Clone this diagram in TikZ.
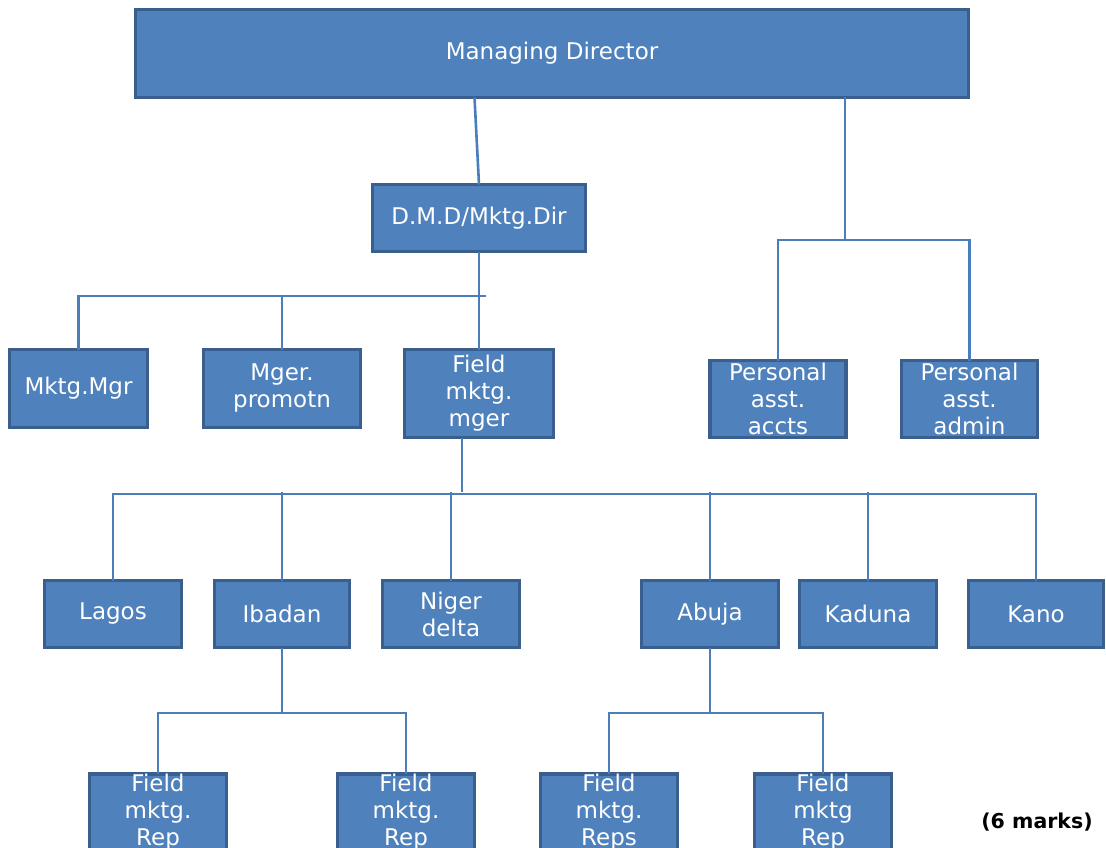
\documentclass[tikz,border=0pt]{standalone}
\usepackage{fontspec}
\setmainfont{DejaVu Sans}
\definecolor{boxfill}{HTML}{4F81BD}
\definecolor{boxline}{HTML}{3A5F8E}
\definecolor{conn}{HTML}{4A7EBB}
\begin{document}
\begin{tikzpicture}[x=1pt,y=-1pt,
  orgbox/.style={draw=boxline, fill=boxfill, line width=3.6pt, inner sep=0pt,
    text=white, align=center, font=\fontsize{23}{27}\selectfont},
  wire/.style={draw=conn, line width=2.6pt}]
\useasboundingbox (0,0) rectangle (1106,848);
\clip (0,0) rectangle (1106,848);
% boxes
\node[orgbox, minimum width=833pt, minimum height=88pt] (md) at (552,53.5) {Managing Director};
\node[orgbox, minimum width=213pt, minimum height=67pt] (dmd) at (479,218) {D.M.D/Mktg.Dir};
\node[orgbox, minimum width=138pt, minimum height=78pt] (mm) at (78.5,388.5) {Mktg.Mgr};
\node[orgbox, minimum width=157pt, minimum height=78pt] (mp) at (282,388.5) {Mger.\\promotn};
\node[orgbox, minimum width=149pt, minimum height=88pt] (fm) at (479,393.5) {Field\\mktg.\\mger};
\node[orgbox, minimum width=136pt, minimum height=77pt] (paa) at (778,399) {Personal\\asst.\\accts};
\node[orgbox, minimum width=136pt, minimum height=77pt] (pad) at (969.5,399) {Personal\\asst.\\admin};
\node[orgbox, minimum width=137pt, minimum height=67pt] (lagos) at (113,614) {Lagos};
\node[orgbox, minimum width=135pt, minimum height=67pt] (ibadan) at (282,614) {Ibadan};
\node[orgbox, minimum width=137pt, minimum height=67pt] (niger) at (451,614) {Niger\\delta};
\node[orgbox, minimum width=137pt, minimum height=67pt] (abuja) at (710,614) {Abuja};
\node[orgbox, minimum width=137pt, minimum height=67pt] (kaduna) at (868,614) {Kaduna};
\node[orgbox, minimum width=135pt, minimum height=67pt] (kano) at (1036,614) {Kano};
\node[orgbox, minimum width=137pt, minimum height=67pt] (r1) at (158,812) {Field\\mktg.\\Rep};
\node[orgbox, minimum width=137pt, minimum height=67pt] (r2) at (406,812) {Field\\mktg.\\Rep};
\node[orgbox, minimum width=137pt, minimum height=67pt] (r3) at (609,812) {Field\\mktg.\\Reps};
\node[orgbox, minimum width=137pt, minimum height=67pt] (r4) at (823,812) {Field\\mktg\\Rep};
\node[font=\fontsize{20.5}{24}\selectfont\bfseries, text=black] (marks) at (1037,822) {(6 marks)};
% junction points
\coordinate (j1) at (845,240);
\coordinate (j2) at (486,296);
\coordinate (j3) at (462,492);
\coordinate (j4) at (282,713);
\coordinate (j5) at (710,713);
% connectors
\draw[wire] ([xshift=-77.5pt,yshift=1.8pt]md.south) -- ([yshift=-1.8pt]dmd.north);
\draw[wire] ([xshift=293pt,yshift=1.8pt]md.south) -- (j1);
\draw[wire] ([yshift=-1.8pt]paa.north) |- (j1) -| ([yshift=-1.8pt]pad.north);
\draw[wire] ([yshift=1.8pt]dmd.south) -- ([yshift=-1.8pt]fm.north);
\draw[wire] ([yshift=-1.8pt]mm.north) |- (j2);
\draw[wire] ([yshift=-1.8pt]mp.north) -- (mp.north |- j2);
\draw[wire] ([xshift=-17pt,yshift=1.8pt]fm.south) -- (j3);
\draw[wire] ([yshift=-1.8pt]lagos.north) |- ([yshift=-1.8pt]kano.north |- j3) -- ([yshift=-1.8pt]kano.north);
\draw[wire] ([yshift=-1.8pt]ibadan.north) -- (ibadan.north |- j3);
\draw[wire] ([yshift=-1.8pt]niger.north) -- (niger.north |- j3);
\draw[wire] ([yshift=-1.8pt]abuja.north) -- (abuja.north |- j3);
\draw[wire] ([yshift=-1.8pt]kaduna.north) -- (kaduna.north |- j3);
\draw[wire] ([yshift=1.8pt]ibadan.south) -- (j4);
\draw[wire] ([yshift=-1.8pt]r1.north) |- (j4) -| ([yshift=-1.8pt]r2.north);
\draw[wire] ([yshift=1.8pt]abuja.south) -- (j5);
\draw[wire] ([yshift=-1.8pt]r3.north) |- (j5) -| ([yshift=-1.8pt]r4.north);
\end{tikzpicture}
\end{document}
